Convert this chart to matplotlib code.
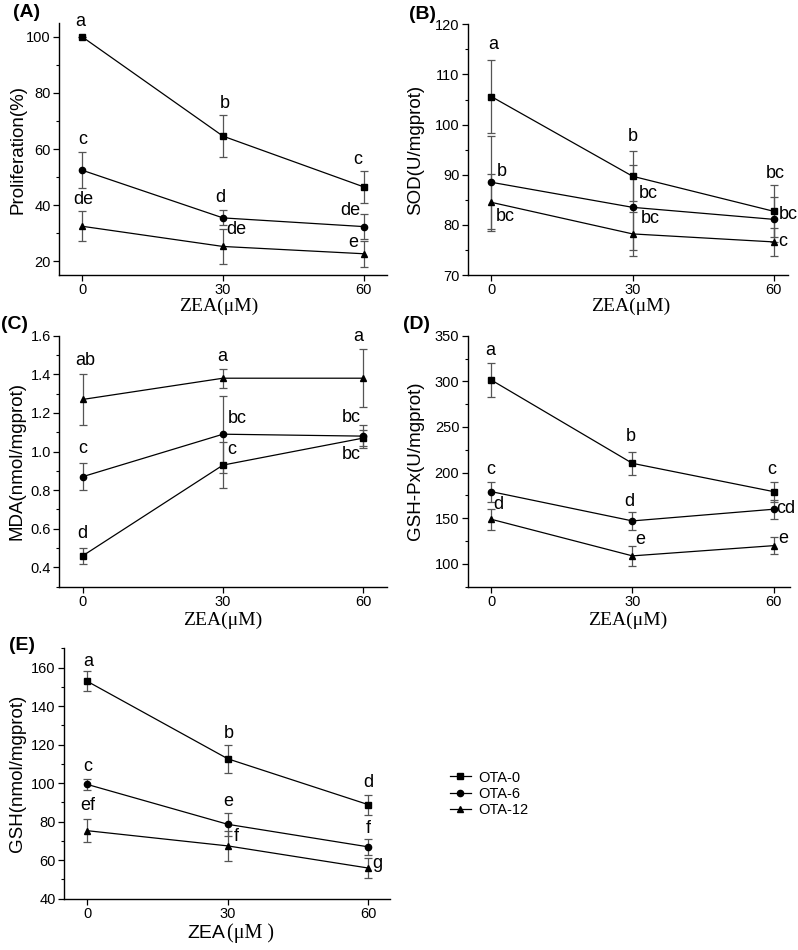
import matplotlib
matplotlib.use("Agg")
import matplotlib.pyplot as plt
from matplotlib.ticker import MultipleLocator, FixedLocator

plt.rcParams['font.family'] = ['Liberation Sans', 'DejaVu Sans']

x = [0, 30, 60]
series = ["OTA-0", "OTA-6", "OTA-12"]

# Panel A: Proliferation (%)
A_mean = {"OTA-0": [100, 64.6, 46.5], "OTA-6": [52.4, 35.4, 32.3], "OTA-12": [32.4, 25.2, 22.6]}
A_err = {"OTA-0": [0, 7.5, 5.7], "OTA-6": [6.5, 2.7, 4.5], "OTA-12": [5.4, 6.1, 4.6]}
A_labels = ["a", "b", "c", "c", "d", "de", "de", "de", "e"]
A_lab_pos = [(-0.4, 105.6), (30.4, 76.4), (58.7, 56.1), (0, 63.3), (29.4, 42.7),
             (57.2, 38.2), (0.3, 41.8), (32.9, 31.1), (57.8, 26.6)]

# Panel B: SOD (U/mgprot)
B_mean = {"OTA-0": [105.6, 89.7, 82.7], "OTA-6": [88.5, 83.5, 81.1], "OTA-12": [84.5, 78.2, 76.6]}
B_err = {"OTA-0": [7.2, 5.0, 5.2], "OTA-6": [9.3, 8.5, 4.5], "OTA-12": [5.7, 4.4, 2.8]}
B_labels = ["a", "b", "bc", "b", "bc", "bc", "bc", "bc", "c"]
B_lab_pos = [(0.4, 115.9), (30, 97.6), (60.2, 90.3), (2.3, 90.6), (33.4, 86.3),
             (63.0, 82.0), (3.0, 81.7), (33.7, 81.3), (61.8, 76.7)]

# Panel C: MDA (nmol/mgprot)
C_mean = {"OTA-0": [0.46, 0.93, 1.07], "OTA-6": [0.87, 1.09, 1.08], "OTA-12": [1.27, 1.38, 1.38]}
C_err = {"OTA-0": [0.04, 0.12, 0.04], "OTA-6": [0.07, 0.20, 0.06], "OTA-12": [0.13, 0.05, 0.15]}
C_labels = ["ab", "a", "a", "bc", "bc", "c", "c", "bc", "d"]
C_lab_pos = [(0.6, 1.471), (29.9, 1.495), (59, 1.598), (33, 1.169), (57.4, 1.178),
             (0, 1.017), (31.9, 1.009), (57.4, 0.983), (0, 0.574)]

# Panel D: GSH-Px (U/mgprot)
D_mean = {"OTA-0": [301.5, 210.2, 179.2], "OTA-6": [179.2, 147.1, 159.9], "OTA-12": [148.9, 108.8, 120.0]}
D_err = {"OTA-0": [18.6, 12.5, 11.0], "OTA-6": [11.0, 9.5, 10.6], "OTA-12": [11.5, 10.6, 9.0]}
D_labels = ["a", "b", "c", "c", "d", "d", "cd", "e", "e"]
D_lab_pos = [(-0.3, 333.6), (29.7, 240.1), (59.7, 203.6), (-0.1, 203.6), (1.6, 164.6),
             (29.4, 168.2), (62.7, 160.9), (31.7, 126.3), (62.1, 127.7)]

# Panel E: GSH (nmol/mgprot)
E_mean = {"OTA-0": [152.8, 112.6, 88.8], "OTA-6": [99.3, 78.6, 66.9], "OTA-12": [75.3, 67.4, 55.9]}
E_err = {"OTA-0": [5.2, 7.4, 5.2], "OTA-6": [3.0, 6.0, 4.1], "OTA-12": [6.0, 8.0, 5.0]}
E_labels = ["a", "b", "d", "c", "e", "f", "ef", "f", "g"]
E_lab_pos = [(0.2, 163.1), (30.1, 125.9), (60, 100.5), (0, 108.6), (30.1, 90.5),
             (59.9, 76.4), (0, 88.4), (31.7, 72.4), (62, 58.3)]

markers = {"OTA-0": "s", "OTA-6": "o", "OTA-12": "^"}
msizes = {"OTA-0": 4.2, "OTA-6": 4.5, "OTA-12": 5.0}

fig = plt.figure(figsize=(7.98, 9.5), dpi=100)

panels = [
    dict(rect=[0.0739, 0.7105, 0.4110, 0.2653], mean=A_mean, err=A_err, labels=A_labels, pos=A_lab_pos,
         ylim=(15, 105), minor=10, yticks=[20, 40, 60, 80, 100], xlim=(-5, 65),
         ylabel="Proliferation(%)", yl=-0.100, xl=(0.486, -0.126), tag="(A)", tagpos=(0.033, 0.987), fmt="{:.0f}"),
    dict(rect=[0.5861, 0.7105, 0.4014, 0.2639], mean=B_mean, err=B_err, labels=B_labels, pos=B_lab_pos,
         ylim=(70, 120), minor=5, yticks=[70, 80, 90, 100, 110, 120], xlim=(-5, 63),
         ylabel="SOD(U/mgprot)", yl=-0.136, xl=(0.509, -0.126), tag="(B)", tagpos=(0.529, 0.985), fmt="{:.0f}"),
    dict(rect=[0.0743, 0.3824, 0.4103, 0.2642], mean=C_mean, err=C_err, labels=C_labels, pos=C_lab_pos,
         ylim=(0.3, 1.6), minor=0.1, yticks=[0.4, 0.6, 0.8, 1.0, 1.2, 1.4, 1.6], xlim=(-5, 65),
         ylabel="MDA(nmol/mgprot)", yl=-0.102, xl=(0.498, -0.133), tag="(C)", tagpos=(0.018, 0.658), fmt="{:.1f}"),
    dict(rect=[0.5861, 0.3824, 0.4039, 0.2642], mean=D_mean, err=D_err, labels=D_labels, pos=D_lab_pos,
         ylim=(75, 350), minor=25, yticks=[100, 150, 200, 250, 300, 350], xlim=(-5, 63.5),
         ylabel="GSH-Px(U/mgprot)", yl=-0.136, xl=(0.496, -0.133), tag="(D)", tagpos=(0.522, 0.658), fmt="{:.0f}"),
    dict(rect=[0.0802, 0.0540, 0.4085, 0.2636], mean=E_mean, err=E_err, labels=E_labels, pos=E_lab_pos,
         ylim=(40, 170), minor=10, yticks=[40, 60, 80, 100, 120, 140, 160], xlim=(-5, 64.6),
         ylabel="GSH(nmol/mgprot)", yl=-0.117, xl=None, tag="(E)", tagpos=(0.028, 0.321), fmt="{:.0f}"),
]

handles = []
for i, p in enumerate(panels):
    ax = fig.add_axes(p["rect"])
    for s in series:
        ax.errorbar(x, p["mean"][s], yerr=p["err"][s], fmt="none", ecolor="#555555",
                    elinewidth=0.9, capsize=3, capthick=0.9, zorder=2)
        h, = ax.plot(x, p["mean"][s], color="black", lw=0.9, marker=markers[s],
                     ms=msizes[s], mfc="black", mec="black", zorder=3, label=s)
        if i == 0:
            handles.append(h)
    for lab, (lx, ly) in zip(p["labels"], p["pos"]):
        ax.text(lx, ly, lab, ha="center", va="center", fontsize=13, clip_on=False)
    ax.set_xlim(*p["xlim"])
    ax.set_ylim(*p["ylim"])
    ax.xaxis.set_major_locator(FixedLocator(x))
    ax.yaxis.set_major_locator(FixedLocator(p["yticks"]))
    ax.yaxis.set_minor_locator(MultipleLocator(p["minor"]))
    ax.set_yticklabels([p["fmt"].format(v) for v in p["yticks"]])
    ax.set_xticklabels([str(v) for v in x])
    for sp in ["top", "right"]:
        ax.spines[sp].set_visible(False)
    for sp in ["left", "bottom"]:
        ax.spines[sp].set_linewidth(1.0)
    ax.tick_params(axis="both", which="major", direction="out", length=4, width=0.9,
                   labelsize=10.5, pad=2)
    ax.tick_params(axis="y", which="minor", direction="out", length=2.5, width=0.8)
    ax.tick_params(axis="x", which="minor", length=0)
    ax.set_ylabel(p["ylabel"], fontsize=13.5)
    ax.yaxis.set_label_coords(p["yl"], 0.5)
    if p["xl"] is not None:
        ax.text(p["xl"][0], p["xl"][1], "ZEA(\u03bcM)", transform=ax.transAxes, ha="center",
                va="center", fontsize=14, family="Liberation Serif")
    else:
        ax.text(0.494, -0.138, "ZEA", transform=ax.transAxes, ha="right", va="center", fontsize=14)
        ax.text(0.501, -0.138, "(\u03bcM )", transform=ax.transAxes, ha="left", va="center",
                fontsize=14.5, family="Liberation Serif")
    fig.text(p["tagpos"][0], p["tagpos"][1], p["tag"], ha="center", va="center",
             fontsize=14, fontweight="bold")

fig.legend(handles=handles, labels=series, loc="center left", bbox_to_anchor=(0.556, 0.1645),
           frameon=False, fontsize=10.5, handlelength=1.5, handletextpad=0.5, labelspacing=0.15,
           borderaxespad=0)

fig.savefig("out.png", dpi=100)
